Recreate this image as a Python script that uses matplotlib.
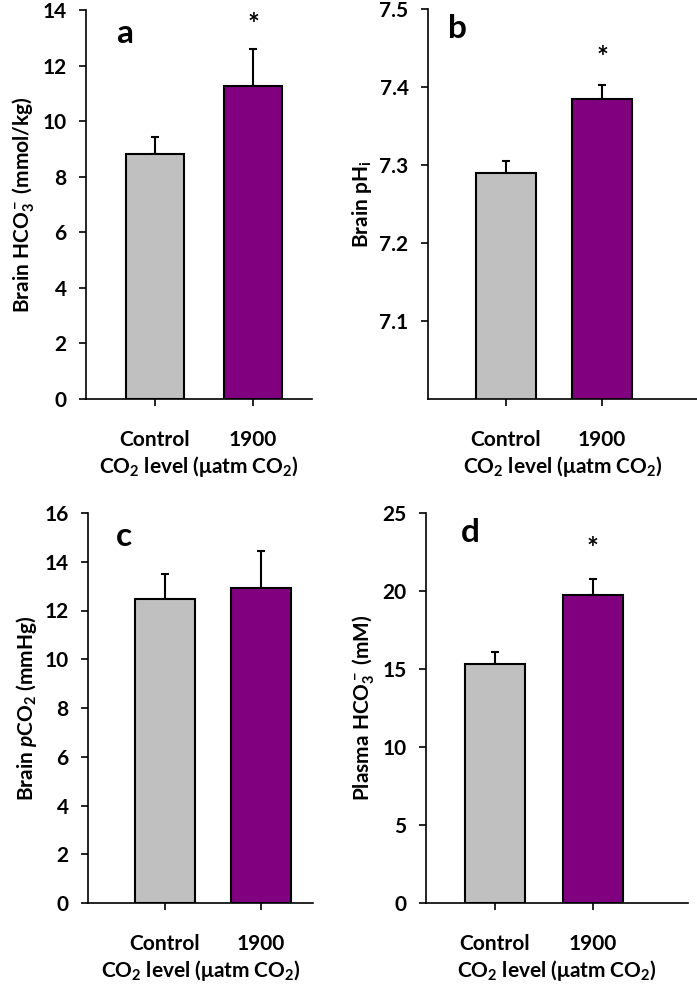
import matplotlib
matplotlib.use("Agg")
import matplotlib.pyplot as plt

# data
groups = ['Control', '1900']
colors = ['#c0c0c0', '#800080']

hco3_brain = [8.82, 11.26]
hco3_brain_err = [0.60, 1.33]

phi_brain = [7.290, 7.385]
phi_brain_err = [0.015, 0.017]

pco2_brain = [12.46, 12.94]
pco2_brain_err = [1.03, 1.50]

hco3_plasma = [15.3, 19.75]
hco3_plasma_err = [0.80, 1.05]

plt.rcParams['font.family'] = 'Lato'
plt.rcParams['font.weight'] = 'bold'
plt.rcParams['axes.labelweight'] = 'bold'
plt.rcParams['mathtext.fontset'] = 'custom'
plt.rcParams['mathtext.rm'] = 'Lato:bold'
plt.rcParams['mathtext.it'] = 'Lato:bold:italic'
plt.rcParams['mathtext.bf'] = 'Lato:bold'
plt.rcParams['mathtext.default'] = 'rm'

W, H = 697, 993
fig = plt.figure(figsize=(W / 100, H / 100), dpi=100)


def panel(px, vals, errs, ylim, yticks, ylabel, letter, letter_pos, star, xlim, width):
    l, r, t, b = px
    ax = fig.add_axes([l / W, 1 - b / H, (r - l) / W, (b - t) / H])
    x = range(len(groups))
    ax.bar(x, vals, width=width, color=colors, edgecolor='black', linewidth=1.5, zorder=2)
    ax.errorbar(x, vals, yerr=[[0, 0], errs], fmt='none', ecolor='black',
                elinewidth=1.5, capsize=3, capthick=1.5, zorder=1)
    ax.set_xlim(*xlim)
    ax.set_ylim(*ylim)
    ax.set_yticks(yticks)
    ax.set_xticks(list(x))
    ax.set_xticklabels(groups, fontweight='bold')
    for lab in ax.get_yticklabels():
        lab.set_fontweight('bold')
    for s in ['top', 'right']:
        ax.spines[s].set_visible(False)
    for s in ['left', 'bottom']:
        ax.spines[s].set_linewidth(1.2)
    ax.tick_params(axis='y', direction='out', length=5, width=1.2, labelsize=15, pad=9)
    ax.tick_params(axis='x', direction='out', length=5, width=1.2, labelsize=15, pad=17)
    ax.set_ylabel(ylabel, fontsize=15, fontweight='bold', labelpad=4)
    ax.set_xlabel(r'CO$_2$ level ($\mu$atm CO$_2$)', fontsize=15, fontweight='bold', labelpad=3)
    ax.text(letter_pos[0], letter_pos[1], letter, transform=ax.transAxes,
            fontsize=24, fontweight='bold', ha='center', va='center')
    if star is not None:
        ax.text(1, star, '*', fontsize=20, fontweight='bold', ha='center', va='center')
    return ax


panel((86, 312, 10, 399), hco3_brain, hco3_brain_err, (0, 14), [0, 2, 4, 6, 8, 10, 12, 14],
      r'Brain HCO$_3^-$ (mmol/kg)', 'a', (0.17, 0.94), 13.45, (-0.704, 1.602), 0.60)
panel((428, 697, 9, 399), phi_brain, phi_brain_err, (7.0, 7.5), [7.1, 7.2, 7.3, 7.4, 7.5],
      r'Brain pH$_i$', 'b', (0.11, 0.95), 7.437, (-0.8125, 1.99), 0.63)
panel((88, 313, 513, 903), pco2_brain, pco2_brain_err, (0, 16), [0, 2, 4, 6, 8, 10, 12, 14, 16],
      r'Brain $\mathit{p}$CO$_2$ (mmHg)', 'c', (0.16, 0.94), None, (-0.80, 1.54), 0.63)
panel((426, 688, 513, 903), hco3_plasma, hco3_plasma_err, (0, 25), [0, 5, 10, 15, 20, 25],
      r'Plasma HCO$_3^-$ (mM)', 'd', (0.17, 0.95), 22.7, (-0.70, 1.97), 0.61)

fig.savefig('out.png', dpi=100)
